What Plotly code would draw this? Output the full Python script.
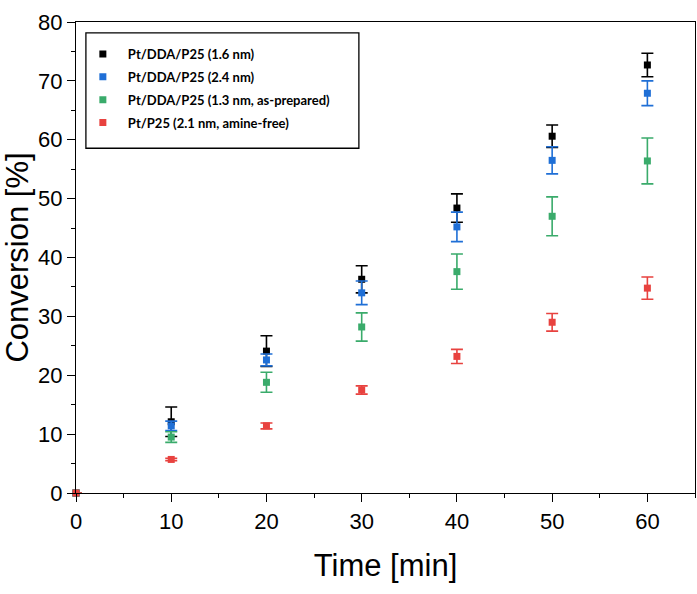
import plotly.graph_objects as go

time_min = [0, 10, 20, 30, 40, 50, 60]

names = [
    'Pt/DDA/P25 (1.6 nm)',
    'Pt/DDA/P25 (2.4 nm)',
    'Pt/DDA/P25 (1.3 nm, as-prepared)',
    'Pt/P25 (2.1 nm, amine-free)',
]
colors = ['#000000', '#1f6fd6', '#3aab6b', '#e8423f']

conv_16 = [0, 12.1, 24.1, 36.3, 48.4, 60.6, 72.7]
err_16 = [0, 2.5, 2.6, 2.3, 2.4, 1.9, 2.0]

conv_24 = [0, 11.4, 22.6, 34.0, 45.2, 56.5, 67.9]
err_24 = [0, 0.8, 1.0, 2.0, 2.5, 2.3, 2.1]

conv_13 = [0, 9.5, 18.8, 28.2, 37.6, 47.0, 56.4]
err_13 = [0, 0.9, 1.7, 2.4, 3.0, 3.3, 3.9]

conv_21 = [0, 5.7, 11.4, 17.5, 23.2, 29.0, 34.8]
err_21 = [0, 0.2, 0.5, 0.7, 1.2, 1.5, 1.9]

series = [(conv_16, err_16), (conv_24, err_24), (conv_13, err_13), (conv_21, err_21)]

fig = go.Figure()

for i, (vals, errs) in enumerate(series):
    fig.add_trace(go.Scatter(
        x=time_min, y=vals, mode='markers', name=names[i],
        legendgroup=str(i),
        marker=dict(symbol='square', size=7, color=colors[i]),
        error_y=dict(type='data', array=errs, visible=True, color=colors[i],
                     thickness=1.6, width=6),
        cliponaxis=False,
    ))

# legend frame
fig.add_shape(type='rect', xref='paper', yref='paper',
              x0=0.016, x1=0.457, y0=0.732, y1=0.977,
              line=dict(color='black', width=1.3), fillcolor='rgba(0,0,0,0)')

axis_font = dict(family='Liberation Sans, Arial', size=22, color='black')
title_font = dict(family='Liberation Sans, Arial', size=31, color='black')

fig.update_layout(
    width=697, height=594,
    margin=dict(l=76, r=2, t=22, b=101),
    plot_bgcolor='white', paper_bgcolor='white',
    showlegend=True,
    legend=dict(
        x=0.003, y=0.964, xanchor='left', yanchor='top',
        bgcolor='rgba(0,0,0,0)', borderwidth=0,
        font=dict(family='Lato, Open Sans', size=13, color='black', weight='bold'),
        tracegroupgap=3, itemwidth=40,
    ),
)

fig.update_xaxes(
    range=[0, 65], tickvals=[0, 10, 20, 30, 40, 50, 60],
    showline=True, linecolor='black', linewidth=1.3, mirror=True,
    ticks='outside', ticklen=8, tickwidth=1.3, tickcolor='black',
    minor=dict(tickvals=[5, 15, 25, 35, 45, 55, 65], ticks='outside', ticklen=4,
               tickwidth=1.3, tickcolor='black'),
    showgrid=False, zeroline=False, automargin=False,
    tickfont=axis_font,
    title=dict(text='Time [min]', font=title_font, standoff=21),
)
fig.update_yaxes(
    range=[0, 80], tickvals=[0, 10, 20, 30, 40, 50, 60, 70, 80],
    showline=True, linecolor='black', linewidth=1.3, mirror=True,
    ticks='outside', ticklen=8, tickwidth=1.3, tickcolor='black',
    minor=dict(tickvals=[5, 15, 25, 35, 45, 55, 65, 75], ticks='outside', ticklen=4,
               tickwidth=1.3, tickcolor='black'),
    showgrid=False, zeroline=False, automargin=False,
    tickfont=axis_font,
    title=dict(text='Conversion [%]', font=title_font, standoff=12),
)

# drop the default page margin so the figure sits at the window corner
fig.write_html("out.html", config={'displayModeBar': False},
               post_script="document.body.style.margin='0';")
